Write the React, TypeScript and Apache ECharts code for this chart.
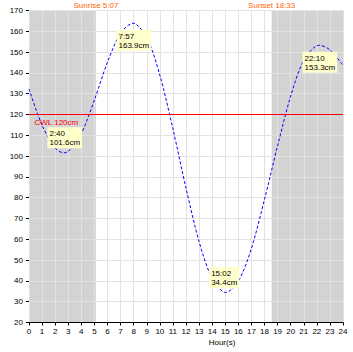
import React, { useEffect, useRef } from "react";
import * as echarts from "echarts";

const hours = [0, 1, 2, 2.67, 3, 4, 5, 6, 7, 7.95, 9, 10, 11, 12, 13, 14, 15.03, 16, 17, 18, 19, 20, 21, 22.17, 23, 24];
const levels = [132.3, 114.8, 103.8, 101.6, 102.2, 110.9, 127.0, 145.2, 159.1, 163.9, 157.0, 138.9, 113.1, 84.6, 58.9, 41.1, 34.4, 39.8, 55.6, 79.2, 104.9, 128.8, 146.0, 153.3, 151.1, 143.6];

const extremeTimes = ["2:40", "7:57", "15:02", "22:10"];
const extremeHours = [2.67, 7.95, 15.03, 22.17];
const extremeLevels = [101.6, 163.9, 34.4, 153.3];
const extremeIsHigh = [false, true, false, true];

const sunriseHour = 5.117;
const sunsetHour = 18.55;
const sunriseLabel = "Sunrise 5:07";
const sunsetLabel = "Sunset 18:33";
const cwlLevel = 120;
const cwlLabel = "CWL 120cm";

const FONT = "Liberation Sans";

export default function App() {
  const ref = useRef<HTMLDivElement>(null);
  useEffect(() => {
    const chart = echarts.init(ref.current!, null, { renderer: "svg" });
    const lineData = hours.map((h, i) => [h, levels[i]]);
    chart.setOption({
      animation: false,
      grid: { left: 29, right: 10, top: 10.5, bottom: 29.5, containLabel: false, outerBoundsMode: "none" },
      xAxis: {
        type: "value",
        min: 0,
        max: 24,
        interval: 1,
        z: 1.5,
        axisLine: { show: true, lineStyle: { color: "#000", width: 1 } },
        axisTick: { show: true, length: 3, lineStyle: { color: "#000" } },
        axisLabel: { fontSize: 8, color: "#000", margin: 5, fontFamily: FONT },
        splitLine: { show: true, lineStyle: { color: "#e2e2e2", width: 1 } },
      },
      yAxis: {
        type: "value",
        min: 20,
        max: 170,
        interval: 10,
        z: 1.5,
        name: "Water Level (cm)",
        nameLocation: "middle",
        nameGap: 18,
        nameTextStyle: { fontSize: 8, color: "#000", fontFamily: FONT },
        axisLine: { show: false },
        axisTick: { show: true, length: 3, lineStyle: { color: "#000" } },
        axisLabel: { fontSize: 8, color: "#000", margin: 6, fontFamily: FONT },
        splitLine: { show: true, lineStyle: { color: "#e2e2e2", width: 1 } },
      },
      graphic: [
        {
          type: "text",
          x: 222,
          y: 342,
          style: {
            text: "Hour(s)",
            fontSize: 8,
            fill: "#000",
            fontFamily: FONT,
            textAlign: "center",
            textVerticalAlign: "middle",
          },
        },
      ],
      series: [
        {
          name: "shade",
          type: "line",
          data: [[0, 20]],
          z: 1,
          silent: true,
          showSymbol: false,
          lineStyle: { width: 0, opacity: 0 },
          markArea: {
            z: 1,
            silent: true,
            itemStyle: { color: "#d3d3d3" },
            data: [
              [{ xAxis: 0 }, { xAxis: sunriseHour }],
              [{ xAxis: sunsetHour }, { xAxis: 24 }],
            ],
          },
          markPoint: {
            silent: true,
            symbol: "circle",
            symbolSize: 1,
            itemStyle: { color: "rgba(0,0,0,0)" },
            label: {
              show: true,
              position: "top",
              distance: 1,
              color: "#ff6600",
              fontSize: 8,
              fontFamily: FONT,
            },
            data: [
              { coord: [sunriseHour, 170], label: { formatter: sunriseLabel } },
              { coord: [sunsetHour, 170], label: { formatter: sunsetLabel } },
            ],
          },
        },
        {
          name: "cwl",
          type: "line",
          data: [[0, cwlLevel], [24, cwlLevel]],
          z: 3,
          silent: true,
          showSymbol: false,
          lineStyle: { color: "#ff0000", width: 1, type: "solid" },
          itemStyle: { color: "#ff0000" },
          markPoint: {
            silent: true,
            symbol: "circle",
            symbolSize: 1,
            itemStyle: { color: "rgba(0,0,0,0)" },
            data: [
              {
                coord: [0, cwlLevel],
                label: {
                  show: true,
                  position: [6, 4],
                  formatter: cwlLabel,
                  color: "#ff0000",
                  fontSize: 8,
                  fontFamily: FONT,
                  align: "left",
                  verticalAlign: "top",
                },
              },
            ],
          },
        },
        {
          name: "tide",
          type: "line",
          data: lineData,
          z: 2,
          smooth: 0.3,
          showSymbol: false,
          lineStyle: { color: "#0000ff", width: 1, type: [3, 2] },
          markPoint: {
            silent: true,
            symbol: "circle",
            symbolSize: 1,
            itemStyle: { color: "rgba(0,0,0,0)" },
            data: extremeHours.map((h, i) => ({
              coord: [h, extremeLevels[i]],
              label: {
                show: true,
                position: extremeIsHigh[i] ? [-16, 7] : [-16, -25],
                formatter: extremeTimes[i] + "\n" + extremeLevels[i].toFixed(1) + "cm",
                backgroundColor: "#ffffcc",
                padding: [2, 2, 1, 2],
                fontSize: 8,
                lineHeight: 9,
                color: "#000",
                fontFamily: FONT,
                align: "left",
                verticalAlign: "top",
              },
            })),
          },
        },
      ],
    });
    return () => chart.dispose();
  }, []);
  return (
    <div
      ref={ref}
      style={{ position: "fixed", left: 0, top: 0, width: 353, height: 352, background: "#fff" }}
    />
  );
}
